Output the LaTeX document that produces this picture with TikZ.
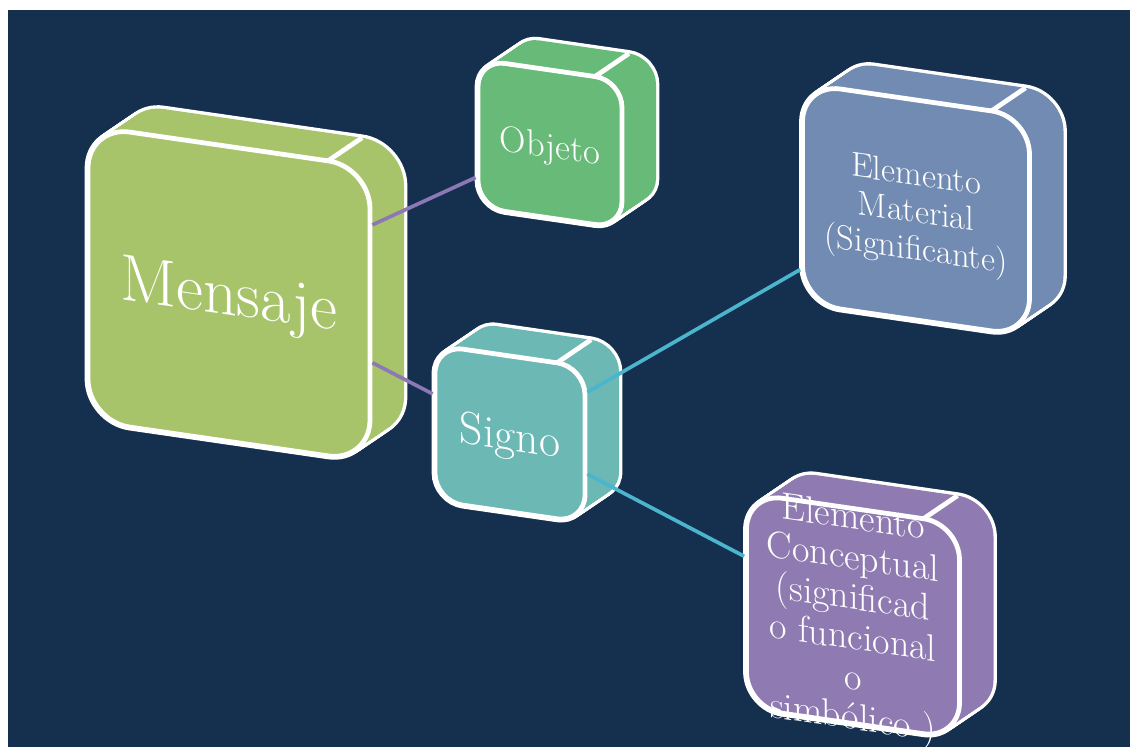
\documentclass[tikz,border=0pt]{standalone}
\usetikzlibrary{calc}
\definecolor{fondo}{HTML}{152F4E}
\definecolor{verdeM}{HTML}{A8C46B}
\definecolor{verdeO}{HTML}{68BA78}
\definecolor{turquesa}{HTML}{6BB8B5}
\definecolor{azulM}{HTML}{728BB2}
\definecolor{violeta}{HTML}{8F7BB1}
\definecolor{lila}{HTML}{8B78B4}
\definecolor{cian}{HTML}{4BB5CD}
\tikzset{
  cara/.style={draw=white, line width=3.4pt},
  texto/.style={text=white, align=center, transform shape, inner sep=0pt, yshift=-3.5pt},
  enlace/.style={line width=2.6pt},
}
% caja 3D: nombre, x, y, ancho, alto, radio, color, fuente, texto
\newcommand{\caja}[9]{%
  \begin{scope}[shift={(#2,#3)}, yslant=-0.145]
    \foreach \d in {0,0.05,...,1.01}
      \draw[white, line width=4.8pt, rounded corners=#6*0.7113pt, shift={(34*\d,-28*\d)}]
        (-#4/2,-#5/2) rectangle (#4/2,#5/2);
    \foreach \d in {0,0.05,...,1.01}
      \fill[#7, rounded corners=#6*0.7113pt, shift={(34*\d,-28*\d)}]
        (-#4/2,-#5/2) rectangle (#4/2,#5/2);
    \draw[white, line width=3.4pt] (#4/2-#6,-#5/2) -- ++(34,-28);
    \node[cara, fill=#7, rounded corners=#6*0.7113pt, minimum width=#4*0.025cm,
      minimum height=#5*0.025cm, transform shape] (#1) at (0,0) {};
    \node[texto, font=#8] (#1-texto) at (#1.center) {#9};
  \end{scope}}
\begin{document}
\begin{tikzpicture}[x=0.025cm, y=-0.025cm]
  \useasboundingbox (0,0) rectangle (1130,747);
  \fill[fondo] (8,10) rectangle (1130,747);

  \caja{mensaje}{229}{294}{282}{295}{42}{verdeM}{\fontsize{47}{56}\selectfont}{Mensaje}
  \caja{objeto}{550}{144}{144}{148}{27}{verdeO}{\fontsize{26}{31}\selectfont}{Objeto}
  \caja{signo}{510}{434}{150}{156}{28}{turquesa}{\fontsize{32.5}{38}\selectfont}{Signo}
  \caja{material}{916}{210}{227}{220}{38}{azulM}{\fontsize{24.5}{26.5}\selectfont}{Elemento\\Material\\(Significante)}
  \caja{conceptual}{853}{616}{213}{215}{36}{violeta}{\fontsize{27}{28.5}\selectfont}{Elemento\\Conceptual\\(significad\\o funcional\\o\\simbólico )}

  \draw[enlace, lila] ($(mensaje.north east)!0.2!(mensaje.south east)$) -- ($(objeto.north west)!0.79!(objeto.south west)$);
  \draw[enlace, lila] ($(mensaje.north east)!0.66!(mensaje.south east)$) -- ($(signo.north west)!0.32!(signo.south west)$);
  \draw[enlace, cian] ($(signo.north east)!0.17!(signo.south east)$) -- ($(material.north west)!0.84!(material.south west)$);
  \draw[enlace, cian] ($(signo.north east)!0.68!(signo.south east)$) -- ($(conceptual.north west)!0.3!(conceptual.south west)$);
\end{tikzpicture}
\end{document}
